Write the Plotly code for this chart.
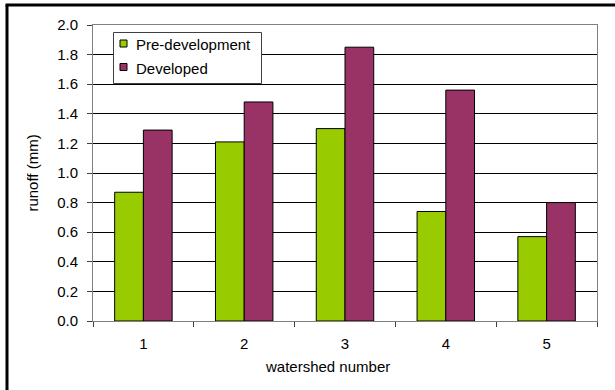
import plotly.graph_objects as go

# Runoff per watershed, before and after development
watersheds = ["1", "2", "3", "4", "5"]
pre_development = [0.87, 1.21, 1.30, 0.74, 0.57]
developed = [1.29, 1.48, 1.85, 1.56, 0.80]
y_ticks = [0.0, 0.2, 0.4, 0.6, 0.8, 1.0, 1.2, 1.4, 1.6, 1.8, 2.0]

series = [
    ("Pre-development", pre_development, "#99CC00"),
    ("Developed", developed, "#993366"),
]

FONT = "Liberation Sans, Arial, sans-serif"
FS = 15

fig = go.Figure()
for name, values, color in series:
    fig.add_trace(go.Bar(
        x=watersheds, y=values, name=name,
        marker=dict(color=color, line=dict(color="#000000", width=1)),
    ))

# Plot area: 93..597 px horizontally, 25..321 px vertically
L, R, T, B = 93, 18, 25, 69
W, H = 615, 390
pw, ph = W - L - R, H - T - B

def px_x(x):
    return (x - L) / pw

def px_y(y):
    return (H - B - y) / ph

shapes = [
    # Frame around the chart: left and top edges
    dict(type="line", xref="paper", yref="paper",
         x0=px_x(7), x1=px_x(7), y0=px_y(400), y1=px_y(5),
         line=dict(color="#000000", width=3), layer="above"),
    dict(type="line", xref="paper", yref="paper",
         x0=px_x(5.5), x1=px_x(620), y0=px_y(5), y1=px_y(5),
         line=dict(color="#000000", width=3), layer="above"),
    # Legend box
    dict(type="rect", xref="paper", yref="paper",
         x0=px_x(113.5), x1=px_x(261.5), y0=px_y(83.5), y1=px_y(32.5),
         line=dict(color="#404040", width=1), fillcolor="white",
         layer="above"),
]
annotations = [
    dict(text="watershed number", xref="paper", yref="paper",
         x=px_x(327), y=px_y(366), xanchor="center", yanchor="middle",
         showarrow=False, font=dict(family=FONT, size=15, color="#000000")),
]

# Legend entries: swatch + label
for i, (name, values, color) in enumerate(series):
    cy = 43.5 + 23.5 * i
    shapes.append(dict(
        type="rect", xref="paper", yref="paper",
        x0=px_x(120), x1=px_x(127), y0=px_y(cy + 3.5), y1=px_y(cy - 3.5),
        line=dict(color="#000000", width=1), fillcolor=color, layer="above",
    ))
    annotations.append(dict(
        text=name, xref="paper", yref="paper",
        x=px_x(134), y=px_y(cy + 1), xanchor="left", yanchor="middle",
        showarrow=False, font=dict(family=FONT, size=15, color="#000000"),
    ))

fig.update_layout(
    width=W, height=H,
    margin=dict(l=L, r=R, t=T, b=B),
    paper_bgcolor="white", plot_bgcolor="white",
    font=dict(family=FONT, size=FS, color="#000000"),
    barmode="group", bargap=0.43, bargroupgap=0.0,
    showlegend=False,
    xaxis=dict(
        type="category", showline=True, linecolor="#808080", linewidth=1,
        mirror=True, ticks="outside", tickson="boundaries", ticklen=5,
        tickcolor="#404040", showgrid=False, ticklabelstandoff=9,
        tickfont=dict(family=FONT, size=FS),
    ),
    yaxis=dict(
        range=[0, 2.0], tickvals=y_ticks, tickformat=".1f",
        showline=True, linecolor="#808080", linewidth=1, mirror=True,
        ticks="outside", ticklen=5, tickcolor="#404040",
        showgrid=True, gridcolor="#000000", gridwidth=1,
        zeroline=False, ticklabelstandoff=6,
        title=dict(text="runoff (mm)", standoff=14,
                   font=dict(family=FONT, size=FS)),
        tickfont=dict(family=FONT, size=FS),
    ),
    shapes=shapes,
    annotations=annotations,
)

fig.write_html("out.html")
